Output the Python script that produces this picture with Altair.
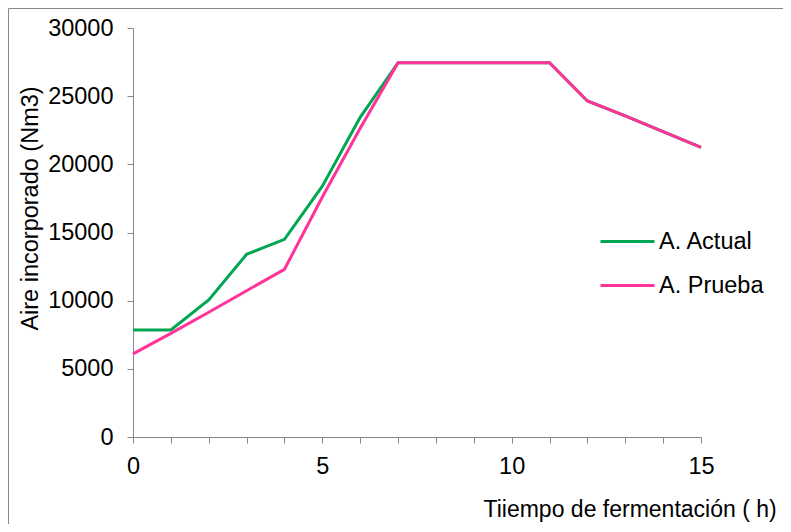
import altair as alt
import pandas as pd

hours = list(range(16))
actual = [7850, 7850, 10050, 13400, 14500, 18400, 23450, 27450, 27450, 27450, 27450, 27450, 24650, 23550, 22400, 21250]
prueba = [6100, 7600, 9150, 10730, 12300, 17600, 22650, 27450, 27450, 27450, 27450, 27450, 24650, 23550, 22400, 21250]
series_names = ["A. Actual", "A. Prueba"]
series_colors = ["#00a651", "#ff3399"]

rows = []
for name, vals in zip(series_names, [actual, prueba]):
    for h, v in zip(hours, vals):
        rows.append({"h": h, "v": v, "serie": name})
df = pd.DataFrame(rows)

FONT = "Liberation Sans"
FS = 23.5

lines = alt.Chart(df).mark_line(strokeWidth=3, clip=False).encode(
    x=alt.X("h:Q", scale=alt.Scale(domain=[0, 15], nice=False),
            axis=alt.Axis(values=hours, labelExpr="datum.value % 5 == 0 ? datum.label : ''",
                          title="Tiiempo de fermentación ( h)", titleX=350, titleY=79,
                          titleAlign="left", titleBaseline="alphabetic", titleFontWeight="normal",
                          titleFontSize=23, titleFont=FONT, titleColor="black",
                          grid=False, tickSize=6, labelPadding=11, labelFontSize=FS,
                          labelFont=FONT, labelColor="black", domainColor="#888888",
                          tickColor="#888888", labelFlush=False)),
    y=alt.Y("v:Q", scale=alt.Scale(domain=[0, 30000], nice=False),
            axis=alt.Axis(values=[0, 5000, 10000, 15000, 20000, 25000, 30000], format="d",
                          title="Aire incorporado (Nm3)", titleX=-103, titleY=180, titleAngle=270,
                          titleAlign="center", titleBaseline="middle", titleFontWeight="normal",
                          titleFontSize=FS, titleFont=FONT, titleColor="black",
                          grid=False, tickSize=6, labelPadding=14, labelFontSize=FS,
                          labelFont=FONT, labelColor="black", domainColor="#888888",
                          tickColor="#888888")),
    color=alt.Color("serie:N", scale=alt.Scale(domain=series_names, range=series_colors),
                    legend=alt.Legend(title=None, orient="none", legendX=466, legendY=185,
                                      symbolType="stroke", symbolSize=2916, symbolStrokeWidth=3,
                                      labelFontSize=FS, labelFont=FONT, labelColor="black",
                                      labelOffset=3, rowPadding=4, padding=0)),
)

frame_df = pd.DataFrame({"k": [0]})
frame = alt.Chart(frame_df).mark_rect(fill=None, stroke="#888888", strokeWidth=1, clip=False).encode(
    x=alt.value(-124.5), x2=alt.value(2000), y=alt.value(-19.5), y2=alt.value(2000)
)

chart = alt.layer(frame, lines).properties(
    width=568, height=409,
    padding={"left": 125, "top": 20, "right": 82, "bottom": 87},
    autosize=alt.AutoSizeParams(type="none"),
).configure_view(stroke=None)

chart.save("out.html", embed_options={"renderer": "svg", "actions": False})
